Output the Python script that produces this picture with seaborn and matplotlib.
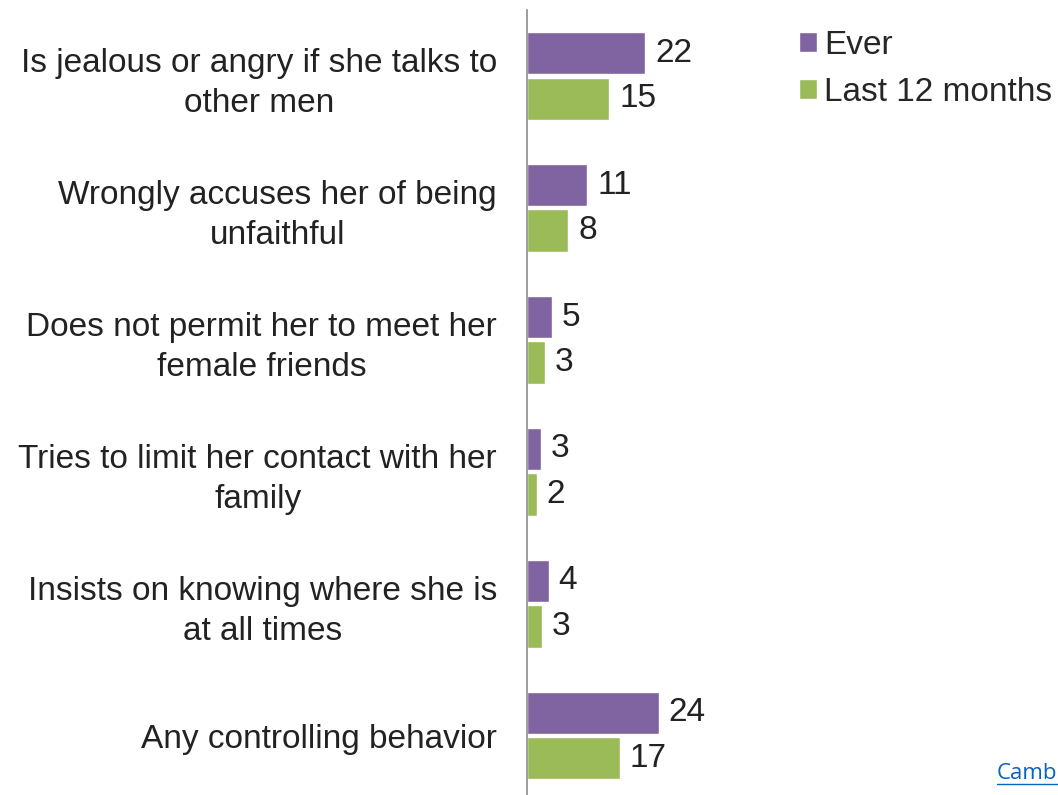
import pandas as pd
import seaborn as sns
import matplotlib.pyplot as plt
from matplotlib.lines import Line2D

# Data
categories = [
    "Is jealous or angry if she talks to\nother men",
    "Wrongly accuses her of being\nunfaithful",
    "Does not permit her to meet her\nfemale friends",
    "Tries to limit her contact with her\nfamily",
    "Insists on knowing where she is\nat all times",
    "Any controlling behavior",
]
series = ["Ever", "Last 12 months"]
ever_values = [21.7, 11.1, 4.6, 2.6, 4.0, 24.2]
last12_values = [15.1, 7.6, 3.3, 1.8, 2.8, 17.1]
ever_labels = [22, 11, 5, 3, 4, 24]
last12_labels = [15, 8, 3, 2, 3, 17]

purple = "#8064A2"
green = "#9BBB59"
text_col = "#222222"

df = pd.DataFrame({
    "behavior": categories * 2,
    "series": [series[0]] * len(categories) + [series[1]] * len(categories),
    "value": ever_values + last12_values,
})

sns.set_theme(style="white")
plt.rcParams["font.family"] = ["Liberation Sans", "DejaVu Sans"]

W, H = 1058, 795
fig = plt.figure(figsize=(W / 100, H / 100), dpi=100)
ax = fig.add_axes([527 / W, (H - 801.5) / H, 218 / W, 791.5 / H])

sns.barplot(
    data=df, y="behavior", x="value", hue="series",
    palette=[purple, green], saturation=1,
    width=0.69, gap=0.07, orient="h", ax=ax,
)

ax.set_xlim(0, 40)
ax.set_ylim(5.5, -0.5)
ax.set_xticks([])
ax.set_xlabel("")
ax.set_ylabel("")

# value labels
for cont, labs in zip(ax.containers, [ever_labels, last12_labels]):
    ax.bar_label(cont, labels=[str(v) for v in labs], padding=7,
                 fontsize=24, color=text_col)

ax.tick_params(axis="y", length=0, pad=21.6, labelsize=24, labelcolor=text_col)
for t in ax.get_yticklabels():
    t.set_multialignment("center")
    t.set_linespacing(1.36)

sns.despine(ax=ax, top=True, right=True, bottom=True)
ax.spines["left"].set_color("#8c8c8c")
ax.spines["left"].set_linewidth(1.2)

# legend top right
handles, labels = ax.get_legend_handles_labels()
ax.get_legend().remove()
fig.legend(handles, labels, loc="upper left",
           bbox_to_anchor=(799 / W, 1 - 30 / H), frameon=False,
           fontsize=24, handlelength=0.55, handleheight=0.55,
           handletextpad=0.2, labelspacing=0.47, borderpad=0,
           borderaxespad=0)

# cut-off source link bottom right
fig.text(997 / W, 1 - 779 / H, "Camb", color="#0563C1", fontsize=16,
         family=["Open Sans", "DejaVu Sans"], ha="left", va="baseline")
fig.add_artist(Line2D([997 / W, 1.0], [1 - 784 / H] * 2,
                      transform=fig.transFigure, color="#0563C1", lw=1))

fig.savefig("out.png", dpi=100)
